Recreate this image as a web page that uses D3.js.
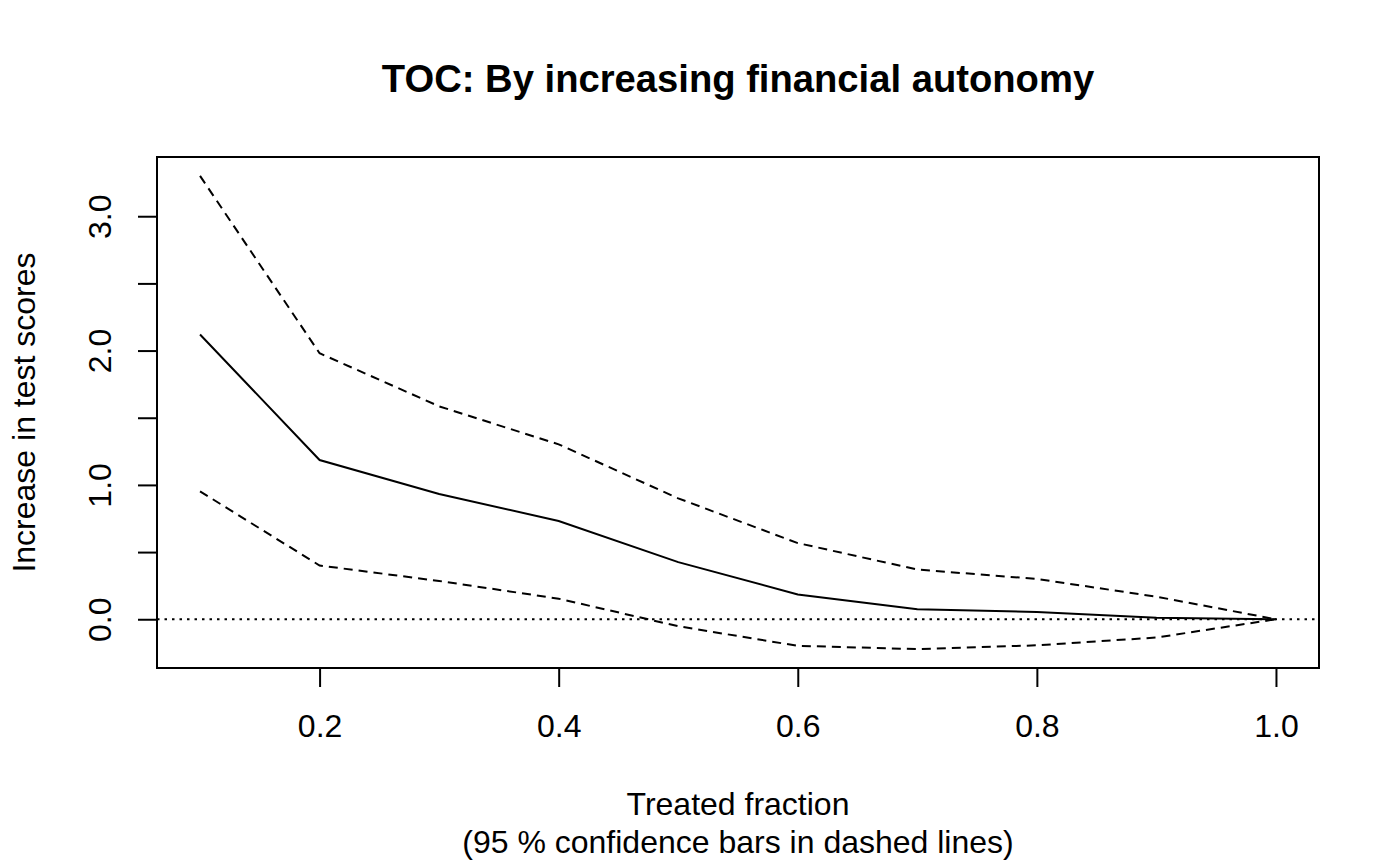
<!DOCTYPE html>
<html>
<head>
<meta charset="utf-8">
<script src="https://cdn.jsdelivr.net/npm/d3@7/dist/d3.min.js"></script>
<style>
html,body{margin:0;padding:0;background:#fff;}
text{font-family:"Liberation Sans",Arial,sans-serif;fill:#000;}
</style>
</head>
<body>
<svg id="chart" width="1400" height="865"></svg>
<script>
const fractions = [0.1,0.2,0.3,0.4,0.5,0.6,0.7,0.8,0.9,1.0];
const estimate  = [2.12,1.185,0.933,0.731,0.425,0.185,0.074,0.054,0.012,0.0];
const upperCI   = [3.30,1.98,1.585,1.302,0.90,0.567,0.37,0.30,0.168,0.0];
const lowerCI   = [0.952,0.40,0.285,0.153,-0.052,-0.198,-0.222,-0.194,-0.136,0.0];
const xTicks = [0.2,0.4,0.6,0.8,1.0];
const yTicks = [0,0.5,1,1.5,2,2.5,3];
const yLabels = [0,1,2,3];

const svg = d3.select("#chart");
const L=157,R=1319,T=157,B=668;
const FS=32;

function ext(lo,hi){const d=(hi-lo)*0.04;return [lo-d,hi+d];}
const xDom = ext(d3.min(fractions), d3.max(fractions));
const allY = estimate.concat(upperCI, lowerCI);
const yDom = ext(d3.min(allY), d3.max(allY));
const x = d3.scaleLinear().domain(xDom).range([L,R]);
const y = d3.scaleLinear().domain(yDom).range([B,T]);

const line = d3.line().x((d,i)=>x(fractions[i])).y(d=>y(d));

// zero reference line
svg.append("line").attr("x1",L).attr("x2",R).attr("y1",y(0)).attr("y2",y(0))
  .attr("stroke","#000").attr("stroke-width",2).attr("stroke-dasharray","2.5,5");

svg.append("path").datum(estimate).attr("d",line)
  .attr("fill","none").attr("stroke","#000").attr("stroke-width",2);
[upperCI,lowerCI].forEach(s=>{
  svg.append("path").datum(s).attr("d",line)
    .attr("fill","none").attr("stroke","#000").attr("stroke-width",2)
    .attr("stroke-dasharray","9,6");
});

// box
svg.append("rect").attr("x",L).attr("y",T).attr("width",R-L).attr("height",B-T)
  .attr("fill","none").attr("stroke","#000").attr("stroke-width",2);

// x axis
const xa = svg.append("g").attr("transform",`translate(0,${B})`)
  .call(d3.axisBottom(x).tickValues(xTicks).tickSize(19).tickFormat(d3.format(".1f")));
xa.select(".domain").remove();
xa.selectAll("line").attr("stroke-width",2);
xa.selectAll("text").attr("font-size",FS).attr("dy",0).attr("y",69)
  .style("font-family","Liberation Sans, Arial, sans-serif");

// y axis
const ya = svg.append("g").attr("transform",`translate(${L},0)`)
  .call(d3.axisLeft(y).tickValues(yTicks).tickSize(19).tickFormat(d=>yLabels.includes(d)?d3.format(".1f")(d):""));
ya.select(".domain").remove();
ya.selectAll("line").attr("stroke-width",2);
ya.selectAll("text").attr("font-size",FS)
  .attr("x",null).attr("dy",null)
  .attr("transform","translate(-46,0) rotate(-90)")
  .attr("text-anchor","middle").attr("y",0)
  .style("font-family","Liberation Sans, Arial, sans-serif");

// title
svg.append("text").attr("x",(L+R)/2).attr("y",92).attr("text-anchor","middle")
  .attr("font-size",38.2).attr("font-weight","bold").text("TOC: By increasing financial autonomy");

// x label
svg.append("text").attr("x",(L+R)/2).attr("y",815).attr("text-anchor","middle")
  .attr("font-size",FS).text("Treated fraction");
svg.append("text").attr("x",(L+R)/2).attr("y",853).attr("text-anchor","middle")
  .attr("font-size",FS).text("(95 % confidence bars in dashed lines)");

// y label
svg.append("text").attr("transform",`translate(35,${(T+B)/2}) rotate(-90)`)
  .attr("text-anchor","middle").attr("font-size",FS).text("Increase in test scores");
</script>
</body>
</html>
